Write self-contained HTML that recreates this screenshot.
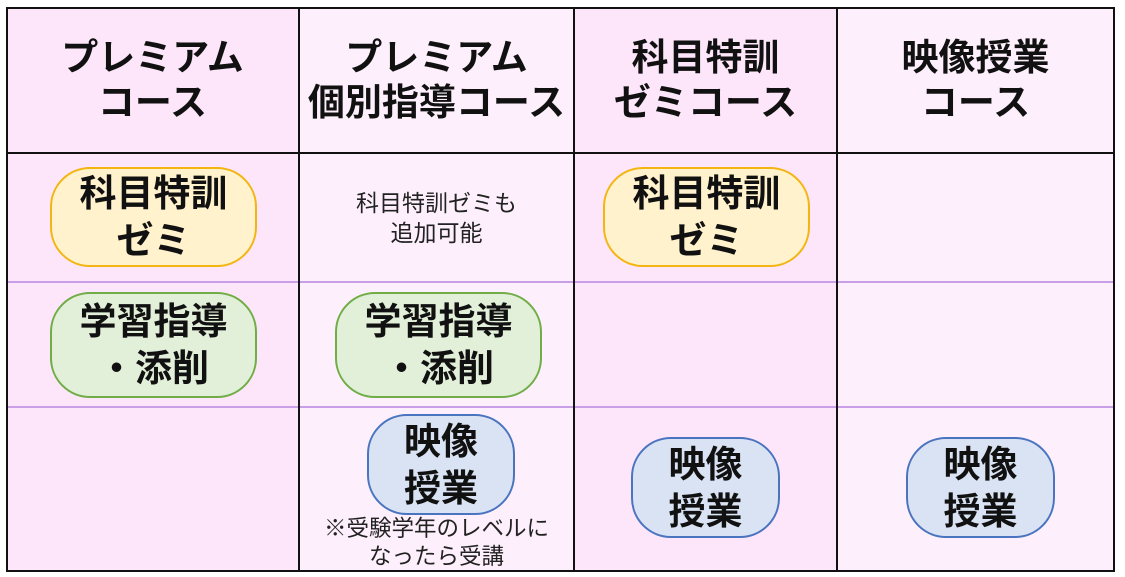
<!DOCTYPE html>
<html><head><meta charset="utf-8"><style>
body{margin:0;width:1125px;height:577px;background:#fff;position:relative;overflow:hidden;font-family:"Liberation Sans","Noto Sans CJK JP",sans-serif;}
.a{position:absolute;box-sizing:border-box;}
.c{display:flex;align-items:center;justify-content:center;text-align:center;}
.h{font-weight:bold;font-size:37px;line-height:45px;color:#111;}
.p{font-weight:bold;font-size:37px;line-height:47px;color:#111;border-radius:40px;border-width:2px;border-style:solid;}
.y{background:#fff2cc;border-color:#f2b511;}
.g{background:#e2efd9;border-color:#70ad47;}
.b{background:#dae3f3;border-color:#4a74c0;}
.s{font-size:23px;line-height:30px;color:#222;}
</style></head><body>
<div class="a" style="left:6px;top:7px;width:293px;height:564px;background:#fde6fa"></div>
<div class="a" style="left:299px;top:7px;width:275px;height:564px;background:#fdf0fc"></div>
<div class="a" style="left:574px;top:7px;width:263px;height:564px;background:#fde6fa"></div>
<div class="a" style="left:837px;top:7px;width:277px;height:564px;background:#fdf0fc"></div>
<div class="a" style="left:6px;top:281px;width:1108px;height:2px;background:#c9a0e8"></div>
<div class="a" style="left:6px;top:406px;width:1108px;height:2px;background:#c9a0e8"></div>
<div class="a" style="left:6px;top:152px;width:1108px;height:2px;background:#111"></div>
<div class="a" style="left:298px;top:7px;width:2px;height:564px;background:#111"></div>
<div class="a" style="left:573px;top:7px;width:2px;height:564px;background:#111"></div>
<div class="a" style="left:836px;top:7px;width:2px;height:564px;background:#111"></div>
<div class="a" style="left:6px;top:7px;width:1109px;height:565px;border:2px solid #111"></div>

<div class="a c h" style="left:6px;top:35px;width:293px;height:90px">プレミアム<br>コース</div>
<div class="a c h" style="left:299px;top:35px;width:275px;height:90px">プレミアム<br>個別指導コース</div>
<div class="a c h" style="left:574px;top:35px;width:263px;height:90px">科目特訓<br>ゼミコース</div>
<div class="a c h" style="left:837px;top:35px;width:277px;height:90px">映像授業<br>コース</div>

<div class="a c p y" style="left:50px;top:167px;width:207px;height:100px">科目特訓<br>ゼミ</div>
<div class="a c s" style="left:299px;top:188px;width:275px;height:60px">科目特訓ゼミも<br>追加可能</div>
<div class="a c p y" style="left:603px;top:167px;width:207px;height:100px">科目特訓<br>ゼミ</div>

<div class="a c p g" style="left:50px;top:292px;width:207px;height:106px">学習指導<br>・添削</div>
<div class="a c p g" style="left:335px;top:292px;width:207px;height:106px">学習指導<br>・添削</div>

<div class="a c p b" style="left:367px;top:414px;width:148px;height:101px">映像<br>授業</div>
<div class="a c s" style="left:299px;top:514px;width:275px;height:58px;line-height:28px;font-size:22.5px">※受験学年のレベルに<br>なったら受講</div>
<div class="a c p b" style="left:631px;top:437px;width:149px;height:101px">映像<br>授業</div>
<div class="a c p b" style="left:906px;top:437px;width:149px;height:101px">映像<br>授業</div>
</body></html>
